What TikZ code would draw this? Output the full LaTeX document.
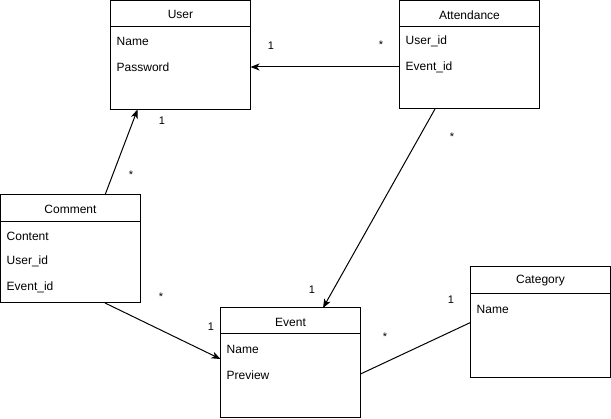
\documentclass[tikz,border=0pt]{standalone}
\usepackage{fontspec}
\setmainfont{Liberation Sans}
\usetikzlibrary{arrows.meta}
\begin{document}
\begin{tikzpicture}[x=1pt,y=-1pt,
  entity/.style={draw, line width=1pt, minimum width=140pt, inner sep=0pt, outer sep=0pt},
  title/.style={font=\fontsize{12}{14}\selectfont, inner sep=0pt},
  attr/.style={font=\fontsize{12}{14}\selectfont, anchor=west, inner sep=0pt},
  mult/.style={font=\fontsize{11}{13}\selectfont, inner sep=0pt},
  assoc/.style={line width=1pt},
  link/.style={assoc, -{Stealth[length=9pt,width=7pt,inset=2.5pt]}}]
\useasboundingbox (0,0) rectangle (611,419);

% User
\node[entity, minimum height=109pt] (user) at (180.5,55) {};
\draw[line width=1pt] ([yshift=-26pt]user.north west) -- ([yshift=-26pt]user.north east);
\node[title] (userT) at ([yshift=-14pt]user.north) {User};
\node[attr] (userA) at ([xshift=6pt]user.west |- 0,41) {Name};
\node[attr] (userB) at ([xshift=6pt]user.west |- 0,67) {Password};

% Attendance
\node[entity, minimum height=108pt] (att) at (469.5,55) {};
\draw[line width=1pt] ([yshift=-26pt]att.north west) -- ([yshift=-26pt]att.north east);
\node[title] (attT) at ([yshift=-14pt]att.north) {Attendance};
\node[attr] (attA) at ([xshift=6pt]att.west |- 0,41) {User\_id};
\node[attr] (attB) at ([xshift=6pt]att.west |- 0,67) {Event\_id};

% Comment
\node[entity, minimum height=108pt] (com) at (70.5,249) {};
\draw[line width=1pt] ([yshift=-27pt]com.north west) -- ([yshift=-27pt]com.north east);
\node[title] (comT) at ([yshift=-14pt]com.north) {Comment};
\node[attr] (comA) at ([xshift=6pt]com.west |- 0,236) {Content};
\node[attr] (comB) at ([xshift=6pt]com.west |- 0,261) {User\_id};
\node[attr] (comC) at ([xshift=6pt]com.west |- 0,287) {Event\_id};

% Event
\node[entity, minimum height=110pt] (evt) at (290.5,363) {};
\draw[line width=1pt] ([yshift=-26pt]evt.north west) -- ([yshift=-26pt]evt.north east);
\node[title] (evtT) at ([yshift=-14pt]evt.north) {Event};
\node[attr] (evtA) at ([xshift=6pt]evt.west |- 0,349) {Name};
\node[attr] (evtB) at ([xshift=6pt]evt.west |- 0,375) {Preview};

% Category
\node[entity, minimum height=111pt] (cat) at (540.5,322.5) {};
\draw[line width=1pt] ([yshift=-27pt]cat.north west) -- ([yshift=-27pt]cat.north east);
\node[title] (catT) at ([yshift=-14pt]cat.north) {Category};
\node[attr] (catA) at ([xshift=6pt]cat.west |- 0,309) {Name};

% Associations
\draw[link] (att.west |- attB) -- (user.east |- attB);
\draw[link] ([xshift=34.5pt]com.north) -- ([xshift=-43pt]user.south);
\draw[link] ([xshift=-34.5pt]att.south) -- ([xshift=32.5pt]evt.north);
\draw[link] ([xshift=34.5pt]com.south) -- ([yshift=4pt]evt.west);
\draw[assoc] ([yshift=-11pt]evt.east) -- (cat.west);

% Multiplicities
\node[mult] (m1) at (271,46) {1};
\node[mult] (m2) at (381,45) {*};
\node[mult] (m3) at (162,121) {1};
\node[mult] (m4) at (131,175) {*};
\node[mult] (m5) at (452,137) {*};
\node[mult] (m6) at (312,290) {1};
\node[mult] (m7) at (161,297) {*};
\node[mult] (m8) at (211,327) {1};
\node[mult] (m9) at (385,337) {*};
\node[mult] (m10) at (451,300) {1};
\end{tikzpicture}
\end{document}
